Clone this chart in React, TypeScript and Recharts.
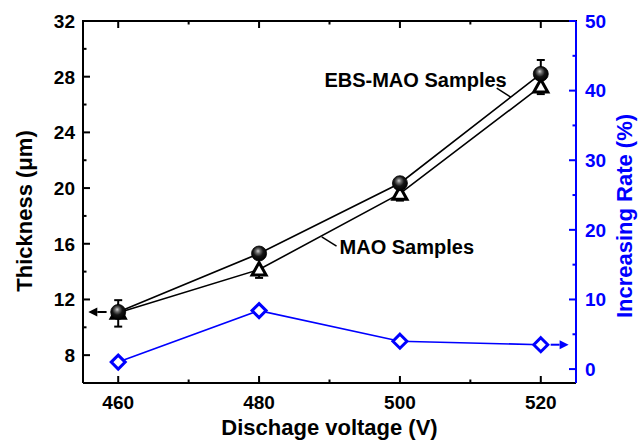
import React from 'react';
import { ComposedChart, Line, XAxis, YAxis, ErrorBar, ReferenceLine } from 'recharts';

// ---- data ----
const voltages = [460, 480, 500, 520];
const ebsThickness = [11.1, 15.3, 20.35, 28.2];
const ebsErrorUp = [0.85, 0.3, 0.3, 1.0];
const maoThickness = [11.05, 14.15, 19.6, 27.3];
const maoErrorDown = [1.0, 0.6, 0.5, 0.55];
const increasingRate = [1.0, 8.4, 4.0, 3.5];

const xMajorTicks = [460, 480, 500, 520];
const xAllTicks = [460, 470, 480, 490, 500, 510, 520];
const leftMajorTicks = [8, 12, 16, 20, 24, 28, 32];
const leftAllTicks = [8, 10, 12, 14, 16, 18, 20, 22, 24, 26, 28, 30, 32];
const rightMajorTicks = [0, 10, 20, 30, 40, 50];
const rightAllTicks = [0, 5, 10, 15, 20, 25, 30, 35, 40, 45, 50];

const ebsLabel = 'EBS-MAO Samples';
const maoLabel = 'MAO Samples';
const xTitle = 'Dischage voltage (V)';
const leftTitle = 'Thickness (\u03bcm)';
const rightTitle = 'Increasing Rate (%)';

const xDomain = [455, 525];
const leftDomain = [6, 32];
const rightDomain = [-2, 50];

const ebsLeader = [{ x: 513.74, y: 27.18 }, { x: 515.73, y: 26.53 }];
const maoLeader = [{ x: 488.9, y: 16.5 }, { x: 491.0, y: 15.83 }];
const leftArrow = [{ x: 458.35, y: 11.1 }, { x: 455.75, y: 11.1 }];
const rightArrow = [{ x: 521.4, y: 3.5 }, { x: 523.95, y: 3.5 }];

const data = voltages.map((v, i) => ({
  voltage: v,
  ebs: ebsThickness[i],
  ebsErr: [0, ebsErrorUp[i]],
  mao: maoThickness[i],
  maoErr: [maoErrorDown[i], 0],
  rate: increasingRate[i],
}));

const CHART_W = 640;
const CHART_H = 442;
const MARGIN_TOP = 21;
const X_AXIS_H = 59;
const LEFT_W = 83;
const RIGHT_W = 64;
const PLOT_TOP = MARGIN_TOP;

const FONT = '"Liberation Sans", Arial, Helvetica, sans-serif';
const BLUE = '#0000ff';
const TICK_FS = 19;
const TITLE_FS = 22;
const ANN_FS = 20;

type Orient = 'left' | 'right' | 'bottom';

const makeTick = (orient: Orient, majors: number[], margin: number, color: string) => (props: any) => {
  const { x, y, payload } = props;
  const v = payload.value;
  const major = majors.includes(v);
  const len = major ? 7 : 3.5;
  let line: any = null;
  let mirror: any = null;
  let label: any = null;
  const textProps = { fill: color, fontFamily: FONT, fontWeight: 700, fontSize: TICK_FS };
  if (orient === 'left') {
    const ax = x + margin;
    line = <rect x={ax} y={y - 1} width={len} height={2} fill={color} />;
    if (major) label = <text x={x} y={y} dy={TICK_FS * 0.36} textAnchor="end" {...textProps}>{v}</text>;
  } else if (orient === 'right') {
    const ax = x - margin;
    line = <rect x={ax - len} y={y - 1} width={len} height={2} fill={color} />;
    if (major) label = <text x={x} y={y} dy={TICK_FS * 0.36} textAnchor="start" {...textProps}>{v}</text>;
  } else {
    const ay = y - margin;
    line = <rect x={x - 1} y={ay - len} width={2} height={len} fill={color} />;
    mirror = <rect x={x - 1} y={PLOT_TOP} width={2} height={len} fill={color} />;
    if (major) label = <text x={x} y={y} dy={TICK_FS * 0.72} textAnchor="middle" {...textProps}>{v}</text>;
  }
  return (
    <g>
      {line}
      {mirror}
      {label}
    </g>
  );
};

const SphereDot = (props: any) => {
  const { cx, cy, index } = props;
  const id = `sphereGrad${index}`;
  return (
    <g key={`sphere-${index}`}>
      <defs>
        <radialGradient id={id} cx="0.45" cy="0.4" r="0.6" fx="0.43" fy="0.33">
          <stop offset="0" stopColor="#d0d0d0" />
          <stop offset="0.25" stopColor="#6a6a6a" />
          <stop offset="0.55" stopColor="#151515" />
          <stop offset="1" stopColor="#000000" />
        </radialGradient>
      </defs>
      <circle cx={cx} cy={cy} r={7.5} fill={`url(#${id})`} stroke="#000" strokeWidth={0.8} />
    </g>
  );
};

const TriangleDot = (props: any) => {
  const { cx, cy, index } = props;
  return (
    <path
      key={`tri-${index}`}
      d={`M${cx},${cy - 7} L${cx + 7},${cy + 5.5} L${cx - 7},${cy + 5.5} Z`}
      fill="#fff"
      stroke="#000"
      strokeWidth={3}
      strokeLinejoin="miter"
    />
  );
};

const DiamondDot = (props: any) => {
  const { cx, cy, index } = props;
  return (
    <path
      key={`dia-${index}`}
      d={`M${cx},${cy - 7} L${cx + 7},${cy} L${cx},${cy + 7} L${cx - 7},${cy} Z`}
      fill="#fff"
      stroke={BLUE}
      strokeWidth={3}
      strokeLinejoin="miter"
    />
  );
};

const arrowShape = (color: string) => (p: any) => {
  const { x1, y1, x2, y2 } = p;
  const dir = Math.sign(x2 - x1) || 1;
  const headLen = 9;
  const headHalf = 4.5;
  const bx = x2 - dir * headLen;
  return (
    <g>
      <line x1={x1} y1={y1} x2={bx} y2={y2} stroke={color} strokeWidth={2} />
      <path d={`M${x2},${y2} L${bx},${y2 - headHalf} L${bx},${y2 + headHalf} Z`} fill={color} />
    </g>
  );
};

const ebsAnnotation = (p: any) => {
  const { x1, y1, x2, y2 } = p;
  return (
    <g>
      <line x1={x1} y1={y1} x2={x2} y2={y2} stroke="#000" strokeWidth={1.5} />
      <text x={x1 + 10} y={y1 - 1} textAnchor="end" fontFamily={FONT} fontWeight={700} fontSize={ANN_FS} fill="#000">
        {ebsLabel}
      </text>
    </g>
  );
};

const maoAnnotation = (p: any) => {
  const { x1, y1, x2, y2 } = p;
  return (
    <g>
      <line x1={x1} y1={y1} x2={x2} y2={y2} stroke="#000" strokeWidth={1.5} />
      <text x={x2 + 3} y={y2 + 7.5} textAnchor="start" fontFamily={FONT} fontWeight={700} fontSize={ANN_FS} fill="#000">
        {maoLabel}
      </text>
    </g>
  );
};

const LeftTitle = (props: any) => {
  const vb = props.viewBox || { x: 0, y: 21, width: 83, height: 362 };
  const x = vb.x + 31.5;
  const y = vb.y + vb.height / 2 + 9;
  return (
    <text x={x} y={y} transform={`rotate(-90, ${x}, ${y})`} textAnchor="middle" fontFamily={FONT} fontWeight={700} fontSize={TITLE_FS} fill="#000">
      {leftTitle}
    </text>
  );
};

const RightTitle = (props: any) => {
  const vb = props.viewBox || { x: 576, y: 21, width: 64, height: 362 };
  const x = vb.x + 56;
  const y = vb.y + vb.height / 2 + 14;
  return (
    <text x={x} y={y} transform={`rotate(-90, ${x}, ${y})`} textAnchor="middle" fontFamily={FONT} fontWeight={700} fontSize={TITLE_FS} fill={BLUE}>
      {rightTitle}
    </text>
  );
};

// bottom axis title; also draws the top frame bar across the plot width
const BottomTitle = (props: any) => {
  const vb = props.viewBox || { x: LEFT_W, y: CHART_H - X_AXIS_H, width: CHART_W - LEFT_W - RIGHT_W, height: X_AXIS_H };
  const x = vb.x + vb.width / 2;
  const y = vb.y + 52;
  return (
    <g>
      <rect x={vb.x - 1} y={PLOT_TOP - 1} width={vb.width + 2} height={2} fill="#000" />
      <text x={x} y={y} textAnchor="middle" fontFamily={FONT} fontWeight={700} fontSize={TITLE_FS} fill="#000">
        {xTitle}
      </text>
    </g>
  );
};

export default function App() {
  return (
    <div style={{ position: 'absolute', left: 0, top: 0, width: CHART_W, height: CHART_H, background: '#fff' }}>
      <ComposedChart width={CHART_W} height={CHART_H} data={data} margin={{ top: MARGIN_TOP, right: 0, bottom: 0, left: 0 }}>
        <XAxis
          dataKey="voltage"
          type="number"
          domain={xDomain}
          ticks={xAllTicks}
          interval={0}
          height={X_AXIS_H}
          tickLine={false}
          tickSize={0}
          tickMargin={12}
          axisLine={{ stroke: '#000', strokeWidth: 2 }}
          tick={makeTick('bottom', xMajorTicks, 12, '#000')}
          label={BottomTitle}
        />
        <YAxis
          yAxisId="left"
          type="number"
          domain={leftDomain}
          ticks={leftAllTicks}
          interval={0}
          width={LEFT_W}
          tickLine={false}
          tickSize={0}
          tickMargin={8}
          axisLine={{ stroke: '#000', strokeWidth: 2 }}
          tick={makeTick('left', leftMajorTicks, 8, '#000')}
          label={LeftTitle}
        />
        <YAxis
          yAxisId="right"
          orientation="right"
          type="number"
          domain={rightDomain}
          ticks={rightAllTicks}
          interval={0}
          width={RIGHT_W}
          tickLine={false}
          tickSize={0}
          tickMargin={9}
          axisLine={{ stroke: BLUE, strokeWidth: 2 }}
          tick={makeTick('right', rightMajorTicks, 9, BLUE)}
          label={RightTitle}
        />
        <Line
          yAxisId="right"
          type="linear"
          dataKey="rate"
          stroke={BLUE}
          strokeWidth={1.6}
          dot={DiamondDot}
          activeDot={false}
          isAnimationActive={false}
        />
        <Line
          yAxisId="left"
          type="linear"
          dataKey="mao"
          stroke="#000"
          strokeWidth={1.6}
          dot={TriangleDot}
          activeDot={false}
          isAnimationActive={false}
        >
          <ErrorBar dataKey="maoErr" direction="y" width={4} stroke="#000" strokeWidth={2} isAnimationActive={false} />
        </Line>
        <Line
          yAxisId="left"
          type="linear"
          dataKey="ebs"
          stroke="#000"
          strokeWidth={1.6}
          dot={SphereDot}
          activeDot={false}
          isAnimationActive={false}
        >
          <ErrorBar dataKey="ebsErr" direction="y" width={4} stroke="#000" strokeWidth={2} isAnimationActive={false} />
        </Line>
        <ReferenceLine yAxisId="left" segment={ebsLeader} shape={ebsAnnotation} ifOverflow="visible" />
        <ReferenceLine yAxisId="left" segment={maoLeader} shape={maoAnnotation} ifOverflow="visible" />
        <ReferenceLine yAxisId="left" segment={leftArrow} shape={arrowShape('#000')} ifOverflow="visible" />
        <ReferenceLine yAxisId="right" segment={rightArrow} shape={arrowShape(BLUE)} ifOverflow="visible" />
      </ComposedChart>
    </div>
  );
}
